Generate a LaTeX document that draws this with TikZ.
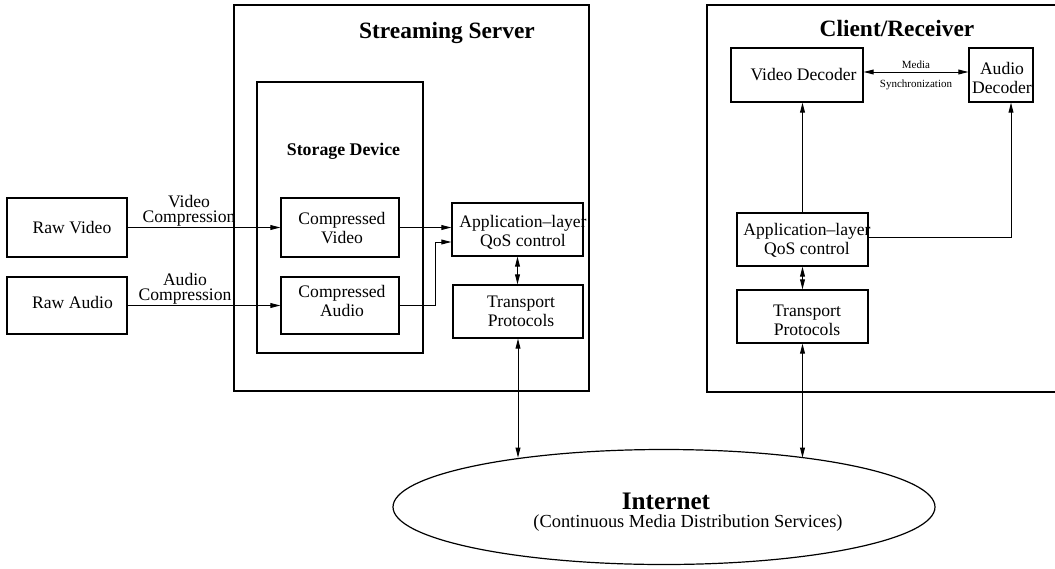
\documentclass[tikz,border=0pt]{standalone}
\usepackage{fontspec}
\setmainfont{Liberation Serif}
\usetikzlibrary{arrows.meta,shapes.geometric,calc}
\begin{document}
\begin{tikzpicture}[x=0.5pt,y=-0.5pt,
  box/.style={draw, rectangle, inner sep=0pt, line width=0.6pt},
  frame/.style={draw, rectangle, inner sep=0pt, line width=0.7pt},
  txt/.style={inner sep=0pt, align=center, font=\fontsize{8.8}{9.5}\selectfont},
  lbl/.style={inner sep=0pt, align=center, font=\fontsize{8.8}{7.6}\selectfont},
  tiny/.style={inner sep=0pt, font=\fontsize{5.5}{6}\selectfont},
  title/.style={inner sep=0pt, font=\fontsize{11.7}{13}\selectfont\bfseries},
  conn/.style={line width=0.5pt},
  arr/.style={conn, -{Triangle[length=5pt,width=2.4pt]}},
  dbl/.style={conn, {Triangle[length=5pt,width=2.4pt]}-{Triangle[length=5pt,width=2.4pt]}}]
\useasboundingbox (0,0) rectangle (1055,568);

% Streaming server
\node[frame, minimum width=177.5pt, minimum height=193pt] (server) at (411.5,198) {};
\node[title] (servertitle) at (447,33) {Streaming Server};
\node[frame, minimum width=83pt, minimum height=135.5pt] (storage) at (340,217.5) {};
\node[inner sep=0pt, font=\fontsize{8.9}{10}\selectfont\bfseries] (storagetitle) at (343.5,151) {Storage Device};

% Client frame (open to the right)
\coordinate (c1) at (1055,5);
\coordinate (c2) at (707,5);
\coordinate (c3) at (707,392);
\coordinate (c4) at (1055,392);
\draw[line width=0.7pt] (c1) -- (c2) -- (c3) -- (c4);
\node[title] (clienttitle) at (897,28) {Client/Receiver};

% Source boxes
\node[box, minimum width=60pt, minimum height=29.5pt] (rv) at (67,227.5) {};
\node[txt] (rvt) at (72,228) {Raw Video};
\node[box, minimum width=60pt, minimum height=28.5pt] (ra) at (67,305.5) {};
\node[txt] (rat) at (72.5,302) {Raw Audio};

\node[box, minimum width=59pt, minimum height=29.5pt] (cv) at (340,227.5) {};
\node[txt] (cvt) at (342,228.5) {Compressed\\Video};
\node[box, minimum width=59pt, minimum height=28.5pt] (ca) at (340,305.5) {};
\node[txt] (cat) at (342,301) {Compressed\\Audio};

\node[box, minimum width=65.5pt, minimum height=26.5pt] (sapp) at (517.5,229.5) {};
\node[txt] (sappt) at (523,232) {Application--layer\\QoS control};
\node[box, minimum width=65pt, minimum height=26.5pt] (stp) at (518,311.5) {};
\node[txt] (stpt) at (521,311.5) {Transport\\Protocols};

% Client boxes
\node[box, minimum width=66pt, minimum height=27pt] (vd) at (797,75) {};
\node[txt] (vdt) at (803.5,74.5) {Video Decoder};
\node[box, minimum width=32pt, minimum height=27pt] (ad) at (1001,75) {};
\node[txt] (adt) at (1002,78) {Audio\\Decoder};
\node[box, minimum width=65.5pt, minimum height=26.5pt] (capp) at (802.5,239.5) {};
\node[txt] (cappt) at (807,240.5) {Application--layer\\QoS control};
\node[box, minimum width=65.5pt, minimum height=26.5pt] (ctp) at (802.5,316.5) {};
\node[txt] (ctpt) at (807,320) {Transport\\Protocols};

% Internet
\node[draw, ellipse, inner sep=0pt, line width=0.6pt, minimum width=271pt, minimum height=57.5pt] (inet) at (664,507) {};
\node[inner sep=0pt, font=\fontsize{12.6}{14}\selectfont\bfseries] (inett) at (666,501) {Internet};
\node[inner sep=0pt, font=\fontsize{9.2}{10}\selectfont] (inets) at (688,523) {(Continuous Media Distribution Services)};

% Compression labels
\node[lbl] (vcl) at (189,210.5) {Video\\Compression};
\node[lbl] (acl) at (185,289) {Audio\\Compression};

% Server connectors
\draw[arr] (rv.east) -- (cv.west);
\draw[arr] (ra.east) -- (ca.west);
\draw[arr] (cv.east) -- (cv.east -| sapp.west);
\draw[arr] (ca.east) -- ++(36,0) |- ($(sapp.west)+(0,12.5)$);
\draw[dbl] (sapp.south) -- (sapp.south |- stp.north);
\draw[dbl] (stp.south) -- (stp.south |- inet.161.64);

% Client connectors
\draw[dbl] ($(vd.east)+(0,-3)$) -- ($(ad.west)+(0,-3)$)
  node[tiny, pos=0.5, yshift=3.6pt] (media) {Media}
  node[tiny, pos=0.5, yshift=-6.4pt] (sync) {Synchronization};
\draw[arr] (capp.north) -- (capp.north |- vd.south);
\draw[arr] ($(capp.east)+(0,-2.5)$) -| ($(ad.south)+(10,0)$);
\draw[dbl] (capp.south) -- (ctp.north);
\draw[dbl] (ctp.south) -- (ctp.south |- inet.19.64);
\end{tikzpicture}
\end{document}
